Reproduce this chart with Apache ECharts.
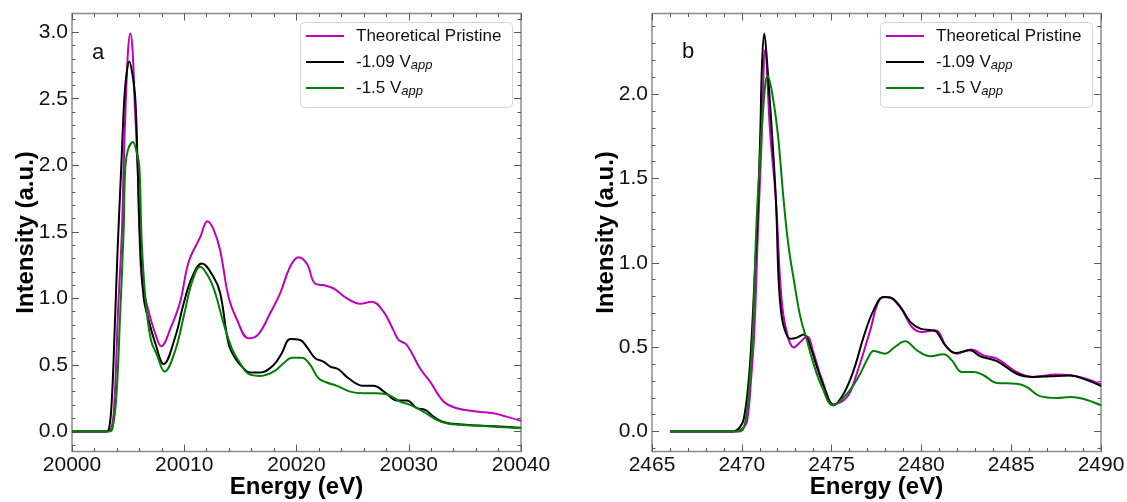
<!DOCTYPE html>
<html>
<head>
<meta charset="utf-8">
<script src="https://cdn.jsdelivr.net/npm/echarts@6/dist/echarts.min.js"></script>
<style>
html, body { margin: 0; padding: 0; background: #fff; }
#chart { width: 1127px; height: 502px; }
</style>
</head>
<body>
<div id="chart"></div>
<script>
const seriesNames = ['Theoretical Pristine', '-1.09 V_app', '-1.5 V_app']
const seriesColors = ['#bf00bf', '#000000', '#008000']

// panel a
const aPristineE = [20000, 20003.0, 20003.5, 20003.8, 20004.1, 20004.45, 20004.6, 20004.8, 20005.0, 20005.2, 20005.4, 20005.57, 20005.85, 20006.0, 20006.23, 20006.8, 20007.4, 20007.95, 20008.8, 20009.64, 20010.4, 20011.42, 20012.07, 20012.6, 20013.2, 20013.95, 20014.7, 20015.73, 20016.6, 20017.66, 20018.55, 20019.44, 20020.18, 20020.93, 20021.67, 20022.4, 20023.3, 20024.5, 20025.67, 20026.7, 20027.75, 20028.64, 20029.1, 20029.83, 20031.0, 20031.9, 20033.1, 20034.28, 20036.06, 20037.55, 20038.7, 20040]
const aPristineI = [0, 0, 0.02, 0.26, 0.9, 1.51, 1.99, 2.5, 2.87, 2.99, 2.86, 2.5, 1.99, 1.51, 1.14, 0.91, 0.74, 0.64, 0.78, 0.975, 1.275, 1.46, 1.58, 1.52, 1.36, 1.01, 0.84, 0.7, 0.73, 0.89, 1.04, 1.24, 1.31, 1.26, 1.11, 1.1, 1.075, 1.0, 0.96, 0.975, 0.9, 0.76, 0.688, 0.65, 0.475, 0.375, 0.225, 0.175, 0.15, 0.137, 0.112, 0.08]

const aV109E = [20000, 20003.0, 20003.3, 20003.56, 20003.8, 20004.06, 20004.39, 20004.66, 20004.88, 20005.1, 20005.35, 20005.64, 20005.85, 20006.06, 20006.38, 20006.82, 20007.42, 20008.16, 20009.2, 20009.94, 20010.7, 20011.57, 20012.61, 20013.2, 20013.95, 20014.54, 20015.13, 20015.88, 20016.77, 20017.96, 20018.7, 20019.44, 20020.33, 20020.9, 20021.67, 20022.4, 20023.0, 20023.74, 20024.63, 20025.97, 20026.86, 20027.9, 20028.94, 20029.83, 20030.72, 20031.46, 20032.2, 20032.94, 20033.98, 20036.06, 20038.1, 20040]
const aV109I = [0, 0, 0.02, 0.26, 0.76, 1.36, 1.99, 2.5, 2.7, 2.78, 2.7, 2.5, 1.99, 1.45, 1.01, 0.84, 0.663, 0.507, 0.712, 0.96, 1.16, 1.263, 1.16, 1.04, 0.66, 0.55, 0.488, 0.443, 0.443, 0.5, 0.59, 0.695, 0.688, 0.638, 0.55, 0.525, 0.488, 0.468, 0.4, 0.343, 0.343, 0.293, 0.233, 0.233, 0.175, 0.163, 0.113, 0.075, 0.058, 0.045, 0.038, 0.028]

const aV15E = [20000, 20003.3, 20003.6, 20003.95, 20004.3, 20004.6, 20004.75, 20005.0, 20005.43, 20005.75, 20006.0, 20006.2, 20006.53, 20007.03, 20007.57, 20008.25, 20009.2, 20009.94, 20010.7, 20011.42, 20012.17, 20012.76, 20013.5, 20014.24, 20014.98, 20015.73, 20016.77, 20017.96, 20018.85, 20019.59, 20020.48, 20021.22, 20021.96, 20022.7, 20023.6, 20024.78, 20025.97, 20027.16, 20028.2, 20029.23, 20030.12, 20031.3, 20032.5, 20033.54, 20036, 20040]
const aV15I = [0, 0, 0.02, 0.26, 0.9, 1.51, 1.99, 2.12, 2.175, 2.1, 1.99, 1.45, 1.01, 0.688, 0.575, 0.45, 0.61, 0.86, 1.125, 1.238, 1.16, 1.04, 0.813, 0.625, 0.513, 0.433, 0.418, 0.45, 0.513, 0.555, 0.555, 0.5, 0.4, 0.368, 0.343, 0.3, 0.288, 0.288, 0.275, 0.225, 0.2, 0.15, 0.088, 0.058, 0.045, 0.025]

// panel b
const bPristineE = [2466, 2469.6, 2469.8, 2470.05, 2470.29, 2470.51, 2470.7, 2470.9, 2471.12, 2471.3, 2471.58, 2471.9, 2472.2, 2472.48, 2472.9, 2473.25, 2473.63, 2474.0, 2474.47, 2475.11, 2475.86, 2476.4, 2477.15, 2477.7, 2478.08, 2478.83, 2479.47, 2480.03, 2480.77, 2481.42, 2481.97, 2482.8, 2483.46, 2484.2, 2485.3, 2486.2, 2487.5, 2488.3, 2490]
const bPristineI = [0, 0, 0.005, 0.02, 0.06, 0.3, 0.6, 1.19, 1.77, 2.264, 1.77, 1.37, 0.8, 0.6, 0.498, 0.53, 0.563, 0.464, 0.306, 0.162, 0.205, 0.344, 0.6, 0.788, 0.798, 0.735, 0.62, 0.59, 0.6, 0.5, 0.462, 0.486, 0.452, 0.432, 0.353, 0.324, 0.338, 0.334, 0.28]

const bV109E = [2466, 2469.4, 2469.64, 2469.85, 2470.1, 2470.38, 2470.57, 2470.75, 2470.85, 2471.03, 2471.12, 2471.25, 2471.4, 2471.68, 2471.9, 2472.05, 2472.2, 2472.4, 2472.7, 2473.07, 2473.44, 2473.8, 2474.18, 2474.65, 2475.11, 2475.67, 2476.23, 2476.78, 2477.34, 2477.9, 2478.27, 2478.83, 2479.38, 2479.94, 2480.59, 2480.86, 2481.33, 2481.88, 2482.72, 2483.28, 2484.2, 2485.3, 2486.2, 2487.15, 2488.26, 2489.0, 2490]
const bV109I = [0, 0, 0.004, 0.02, 0.07, 0.3, 0.6, 1.0, 1.19, 1.77, 2.16, 2.36, 2.2, 1.77, 1.37, 0.9, 0.7, 0.6, 0.55, 0.557, 0.575, 0.51, 0.383, 0.245, 0.156, 0.225, 0.364, 0.56, 0.72, 0.798, 0.795, 0.739, 0.65, 0.61, 0.6, 0.59, 0.511, 0.466, 0.482, 0.446, 0.418, 0.343, 0.324, 0.328, 0.332, 0.314, 0.27]

const bV15E = [2466, 2469.6, 2469.98, 2470.2, 2470.44, 2470.62, 2470.8, 2471.0, 2471.18, 2471.44, 2471.7, 2472.0, 2472.33, 2472.6, 2472.9, 2473.26, 2473.63, 2474.0, 2474.47, 2475.08, 2475.86, 2476.5, 2477.0, 2477.34, 2477.98, 2478.5, 2479.1, 2479.75, 2480.5, 2481.23, 2481.7, 2482.25, 2482.9, 2483.46, 2484.2, 2485.3, 2485.88, 2486.6, 2487.55, 2488.3, 2489.0, 2490]
const bV15I = [0, 0, 0.005, 0.06, 0.3, 0.6, 1.19, 1.6, 1.9, 2.11, 2.0, 1.77, 1.37, 1.1, 0.897, 0.68, 0.54, 0.4, 0.264, 0.156, 0.225, 0.325, 0.43, 0.478, 0.462, 0.5, 0.535, 0.482, 0.446, 0.458, 0.422, 0.353, 0.353, 0.334, 0.288, 0.284, 0.264, 0.21, 0.199, 0.205, 0.195, 0.156]

// y tick labels
const aYTicks = [0, 0.5, 1.0, 1.5, 2.0, 2.5, 3.0]
const bYTicks = [0, 0.5, 1.0, 1.5, 2.0]

const font = "'Liberation Sans', Arial, sans-serif"
const frameColor = '#8c8c8c'
const tickColor = '#5a5a5a'

const minorValues = (min, max, step, majors) => {
  const out = []
  for (let v = Math.ceil(min / step - 1e-9) * step; v <= max + 1e-9; v += step) {
    const r = Math.round(v * 1000) / 1000
    if (!majors.some(m => Math.abs(m - r) < 1e-6)) out.push(r)
  }
  return out
}

const zip = (xs, ys) => xs.map((x, i) => [x, ys[i]])

const nameStyle = { fontFamily: font, fontSize: 24, fontWeight: 'bold', color: '#000' }

// x: bottom + top axes using interval ticks with minor ticks
const buildX = (grid, min, max, interval) => {
  const base = pos => ({
    type: 'value', gridIndex: grid, position: pos, min, max, interval,
    axisLine: { show: false, onZero: false },
    splitLine: { show: false },
    axisTick: { show: true, inside: true, length: 7, lineStyle: { color: tickColor, width: 1 } },
    minorTick: { show: true, splitNumber: 5, length: 3.5, lineStyle: { color: tickColor, width: 1 } },
    minorSplitLine: { show: false },
    axisLabel: { show: false }
  })
  return [
    Object.assign(base('bottom'), {
      axisLabel: { show: true, fontFamily: font, fontSize: 21, color: '#111', margin: 3, formatter: v => String(v) },
      name: 'Energy (eV)', nameLocation: 'middle', nameGap: 24, nameMoveOverlap: false,
      nameTextStyle: nameStyle
    }),
    base('top')
  ]
}

// y: left + right, major and minor ticks from custom values (range starts below 0)
const buildY = (grid, min, max, majors, step) => {
  const minors = minorValues(min, max, step, majors)
  const base = (pos, values, len) => ({
    type: 'value', gridIndex: grid, position: pos, min, max,
    axisLine: { show: false, onZero: false },
    splitLine: { show: false },
    axisTick: { show: true, inside: true, length: len, customValues: values, lineStyle: { color: tickColor, width: 1 } },
    axisLabel: { show: false }
  })
  return [
    Object.assign(base('left', majors, 7), {
      axisLabel: { show: true, customValues: majors, fontFamily: font, fontSize: 21, color: '#111', margin: 4,
        formatter: v => v.toFixed(1) },
      name: 'Intensity (a.u.)', nameLocation: 'middle', nameGap: 34, nameRotate: 90, nameMoveOverlap: false,
      nameTextStyle: nameStyle
    }),
    base('left', minors, 3.5),
    base('right', majors, 7),
    base('right', minors, 3.5)
  ]
}

const lineSeries = (name, color, data, xi, yi) => ({
  name, type: 'line', data, xAxisIndex: xi, yAxisIndex: yi,
  symbol: 'none', showSymbol: false, smooth: 0.4,
  lineStyle: { color, width: 2 }, itemStyle: { color },
  animation: false
})

const legendFor = left => ({
  orient: 'vertical', left: left + 6, top: 26,
  data: seriesNames,
  icon: 'rect',
  itemWidth: 38, itemHeight: 2, itemGap: 6,
  padding: 0,
  formatter: n => n.replace('_app', '{sub|app}'),
  textStyle: {
    fontFamily: font, fontSize: 17, color: '#111', lineHeight: 20, padding: [0, 0, 0, 7],
    rich: { sub: { fontFamily: font, fontSize: 13, fontStyle: 'italic', lineHeight: 12, verticalAlign: 'bottom', color: '#111' } }
  }
})

// legend frame boxes
const legendBox = left => ({
  type: 'rect', left, top: 22, z: 3,
  shape: { width: 212, height: 85, r: 4 },
  style: { fill: 'rgba(255,255,255,0.85)', stroke: '#d6d6d6', lineWidth: 1 }
})

const chart = echarts.init(document.getElementById('chart'), null, { renderer: 'canvas' })
chart.setOption({
  animation: false,
  backgroundColor: '#fff',
  grid: [
    { left: 72, top: 13.5, width: 449, height: 438, outerBoundsMode: 'none', show: true, borderColor: frameColor, borderWidth: 1.5, backgroundColor: 'transparent' },
    { left: 652, top: 13.5, width: 449, height: 438, outerBoundsMode: 'none', show: true, borderColor: frameColor, borderWidth: 1.5, backgroundColor: 'transparent' }
  ],
  xAxis: [...buildX(0, 20000, 20040, 10), ...buildX(1, 2465, 2490, 5)],
  yAxis: [...buildY(0, -0.15, 3.14, aYTicks, 0.1), ...buildY(1, -0.118, 2.478, bYTicks, 0.1)],
  legend: [legendFor(300), legendFor(880)],
  graphic: [
    legendBox(300),
    legendBox(880),
    { type: 'text', left: 92, top: 42, style: { text: 'a', fontFamily: font, fontSize: 22, fill: '#111' } },
    { type: 'text', left: 682, top: 41, style: { text: 'b', fontFamily: font, fontSize: 22, fill: '#111' } }
  ],
  series: [
    lineSeries(seriesNames[0], seriesColors[0], zip(aPristineE, aPristineI), 0, 0),
    lineSeries(seriesNames[1], seriesColors[1], zip(aV109E, aV109I), 0, 0),
    lineSeries(seriesNames[2], seriesColors[2], zip(aV15E, aV15I), 0, 0),
    lineSeries(seriesNames[0], seriesColors[0], zip(bPristineE, bPristineI), 2, 4),
    lineSeries(seriesNames[1], seriesColors[1], zip(bV109E, bV109I), 2, 4),
    lineSeries(seriesNames[2], seriesColors[2], zip(bV15E, bV15I), 2, 4)
  ]
})
</script>
</body>
</html>
